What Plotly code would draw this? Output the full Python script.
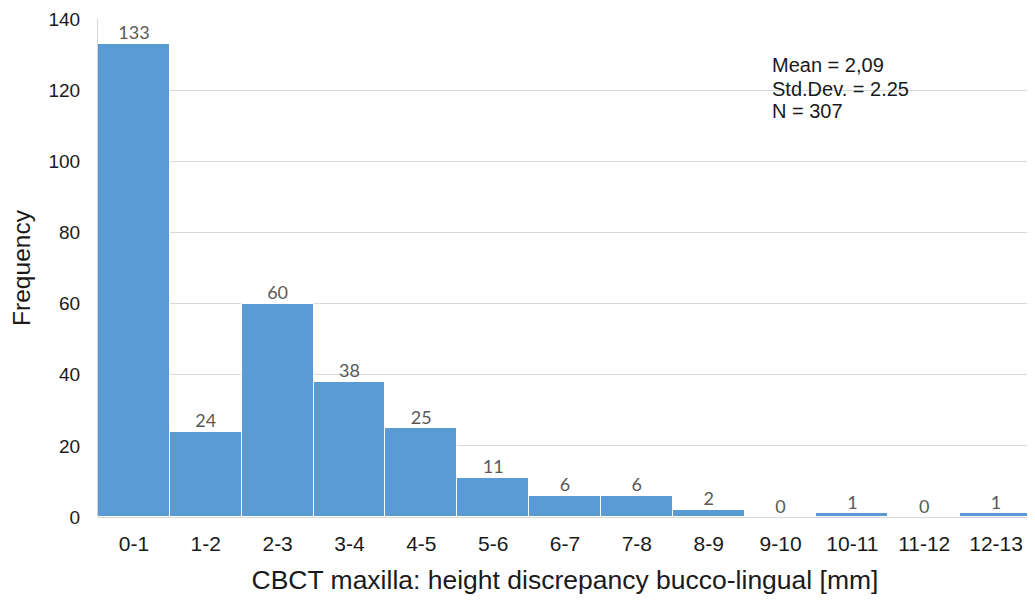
import plotly.graph_objects as go

categories = ["0-1", "1-2", "2-3", "3-4", "4-5", "5-6", "6-7", "7-8", "8-9", "9-10", "10-11", "11-12", "12-13"]
frequencies = [133, 24, 60, 38, 25, 11, 6, 6, 2, 0, 1, 0, 1]
y_ticks = [0, 20, 40, 60, 80, 100, 120, 140]
stats_lines = ["Mean = 2,09", "Std.Dev. = 2.25", "N = 307"]
stats_y = [127.0, 120.4, 114.2]

fig = go.Figure()
fig.add_trace(go.Bar(
    x=categories, y=frequencies,
    marker=dict(color="#5B9BD5", line=dict(color="white", width=1)),
    showlegend=False, hoverinfo="x+y",
))
fig.add_trace(go.Scatter(
    x=categories, y=frequencies, mode="text",
    text=[str(v) for v in frequencies], textposition="top center",
    textfont=dict(family="Lato, Open Sans, sans-serif", size=18, color="#595959"),
    showlegend=False, hoverinfo="skip", cliponaxis=False,
))

for line, yv in zip(stats_lines, stats_y):
    fig.add_annotation(
        x=0.719, y=yv, xref="paper", yref="y", xanchor="left", yanchor="middle",
        text=line, showarrow=False, align="left",
        font=dict(family="Liberation Sans, Arial, sans-serif", size=20, color="#1a1a1a"),
    )

fig.update_layout(
    width=1035, height=601,
    margin=dict(l=90, r=11, t=11, b=92),
    plot_bgcolor="white", paper_bgcolor="white",
    bargap=0,
    font=dict(family="Liberation Sans, Arial, sans-serif", color="#1a1a1a"),
    xaxis=dict(
        type="category", automargin=False,
        range=[-0.5, len(categories) - 0.5],
        title=dict(text="CBCT maxilla: height discrepancy bucco-lingual [mm]",
                   font=dict(size=26.5, color="#1a1a1a"), standoff=16),
        tickfont=dict(size=21, color="#1a1a1a"),
        showgrid=False, ticks="", showline=False, ticklabelstandoff=12,
    ),
    yaxis=dict(
        automargin=False,
        title=dict(text="Frequency", font=dict(size=24.5, color="#1a1a1a"), standoff=20),
        range=[0, 140], tickvals=y_ticks,
        tickfont=dict(size=19, color="#1a1a1a"),
        showgrid=True, gridcolor="#d9d9d9", gridwidth=1,
        zeroline=True, zerolinecolor="#d9d9d9", zerolinewidth=1,
        showline=True, linecolor="#d9d9d9", linewidth=1,
        ticks="", ticklabelstandoff=13,
    ),
)

fig.write_html("out.html")
